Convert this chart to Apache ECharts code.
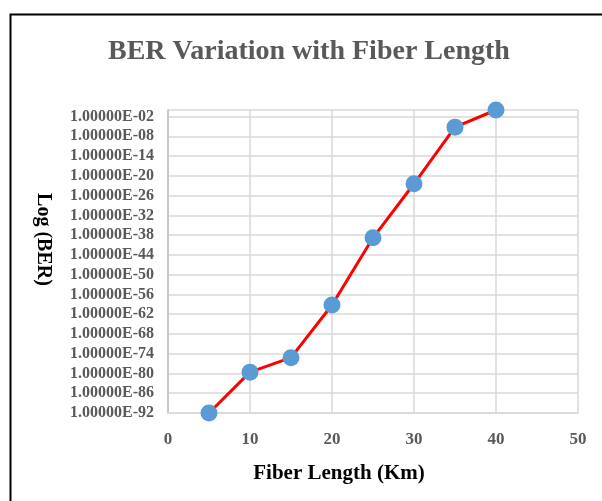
<!DOCTYPE html>
<html>
<head>
<meta charset="utf-8">
<script src="https://cdn.jsdelivr.net/npm/echarts@6/dist/echarts.min.js"></script>
<style>
  html, body { margin: 0; padding: 0; background: #fff; }
  #chart { width: 602px; height: 501px; }
</style>
</head>
<body>
<div id="chart"></div>
<script>
// values
var fiberLength = [5, 10, 15, 20, 25, 30, 35, 40];
var berExponent = [-92, -79.6, -75.2, -59.2, -38.8, -22.4, -5.2, 0];   // log10(BER)
var xTicks = [0, 10, 20, 30, 40, 50];
var yMinExp = -92;   // bottom of the axis
var yMaxExp = 0;     // top of the axis
var yStep = 6;       // decades between labels

// the y axis runs on (exponent - yMinExp) so ticks start at a multiple of yStep
var seriesData = [];
for (var i = 0; i < fiberLength.length; i++) {
    seriesData.push([fiberLength[i], berExponent[i] - yMinExp]);
}

function berLabel(v) {
    var e = Math.round(v + yMinExp);
    if (e >= 0) return '';
    var n = -e;
    return '1.00000E-' + (n < 10 ? '0' + n : n);
}

var serif = '"Liberation Serif", "Times New Roman", serif';
var chartDom = document.getElementById('chart');
var myChart = echarts.init(chartDom);
var option = {
    animation: false,
    backgroundColor: '#fff',
    title: {
        text: 'BER Variation with Fiber Length',
        left: 103,
        top: 33,
        textStyle: { fontFamily: serif, fontWeight: 'bold', fontSize: 28, color: '#595959' }
    },
    graphic: [{
        type: 'rect',
        left: 8, top: 12,
        shape: { width: 700, height: 600 },
        style: { fill: 'none', stroke: '#000', lineWidth: 2 },
        z: -1
    }],
    grid: { left: 168, right: 24, top: 110, bottom: 88 },
    xAxis: {
        type: 'value',
        min: xTicks[0],
        max: xTicks[xTicks.length - 1],
        interval: 10,
        name: 'Fiber Length (Km)',
        nameLocation: 'middle',
        nameGap: 50,
        nameTextStyle: { fontFamily: serif, fontWeight: 'bold', fontSize: 21, color: '#000', padding: [0, 68, 0, 0] },
        axisLine: { lineStyle: { color: '#D9D9D9', width: 1.5 } },
        axisTick: { show: false },
        axisLabel: { margin: 18, fontFamily: serif, fontWeight: 'bold', fontSize: 17, color: '#595959' },
        splitLine: { show: true, lineStyle: { color: '#D9D9D9', width: 1.5 } }
    },
    yAxis: {
        type: 'value',
        min: 0,
        max: yMaxExp - yMinExp,
        interval: yStep,
        name: 'Log (BER)',
        nameLocation: 'middle',
        nameRotate: -90,
        nameGap: 115,
        nameTextStyle: { fontFamily: serif, fontWeight: 'bold', fontSize: 20, color: '#000', padding: [0, 44, 0, 0] },
        axisLine: { show: true, lineStyle: { color: '#BFBFBF', width: 1.5 } },
        axisTick: { show: false },
        axisLabel: { margin: 14, formatter: berLabel, fontFamily: serif, fontWeight: 'bold', fontSize: 16, color: '#595959' },
        splitLine: { show: true, lineStyle: { color: '#D9D9D9', width: 1.5 } }
    },
    series: [{
        type: 'line',
        data: seriesData,
        symbol: 'circle',
        symbolSize: 17,
        lineStyle: { color: '#FF0000', width: 3 },
        itemStyle: { color: '#5B9BD5' }
    }]
};
option && myChart.setOption(option);
</script>
</body>
</html>
